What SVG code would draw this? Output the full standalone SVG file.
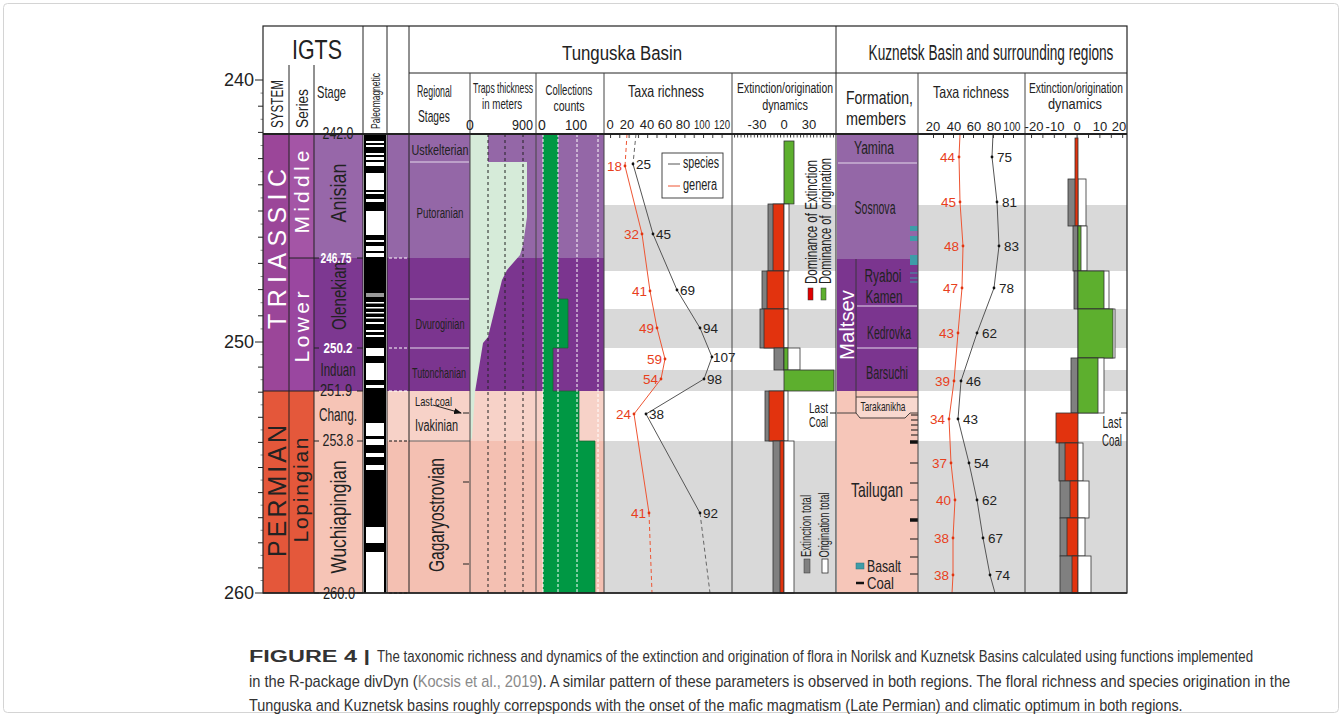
<svg xmlns="http://www.w3.org/2000/svg" width="1342" height="716" viewBox="0 0 1342 716">
<style>
text{font-family:"Liberation Sans Narrow","Liberation Sans",Arial,sans-serif;fill:#222}
.w{fill:#fff}
.cap{font-family:"Liberation Sans",Arial,sans-serif;font-size:16px;fill:#333}
.ln{stroke:#222;stroke-width:1;fill:none}
.bar{stroke:#333;stroke-width:0.8}
.red{fill:#E2330E}
.grn{fill:#5DAF2E}
.gry{fill:#808080}
.wht{fill:#fff}
.rn{fill:#E8401C}
.num{font-size:13.5px}
</style>
<defs>
<pattern id="tkT" patternUnits="userSpaceOnUse" x="610" y="0" width="9.3" height="716"><rect x="0" y="0" width="1" height="716" fill="#333"/></pattern>
<pattern id="tkTE" patternUnits="userSpaceOnUse" x="734" y="0" width="3.3" height="716"><rect x="0" y="0" width="0.9" height="716" fill="#333"/></pattern>
<pattern id="tkK" patternUnits="userSpaceOnUse" x="933" y="0" width="10" height="716"><rect x="0" y="0" width="1" height="716" fill="#333"/></pattern>
<pattern id="tkKE" patternUnits="userSpaceOnUse" x="1031" y="0" width="11.4" height="716"><rect x="0" y="0" width="1" height="716" fill="#333"/></pattern>
<marker id="arr" markerWidth="8" markerHeight="6" refX="7" refY="3" orient="auto" markerUnits="userSpaceOnUse"><path d="M0,0 L8,3 L0,6 z" fill="#111"/></marker>
</defs>
<rect width="1342" height="716" fill="#fff"/>
<rect x="3.5" y="3.5" width="1335" height="709" rx="4" fill="none" stroke="#d4d4d4"/>

<g id="time-axis">
<path class="ln" d="M255 80H263M255 342H263M255 593H263"/>
<path class="ln" d="M258 106.2H263M258 132.4H263M258 158.6H263M258 184.8H263M258 211H263M258 237.2H263M258 263.4H263M258 289.6H263M258 315.8H263M258 367.1H263M258 392.2H263M258 417.3H263M258 442.4H263M258 467.5H263M258 492.6H263M258 517.7H263M258 542.8H263M258 567.9H263"/>
<path stroke="#555" stroke-width="0.7" d="M260.5 93.1H263M260.5 119.3H263M260.5 145.5H263M260.5 171.7H263M260.5 197.9H263M260.5 224.1H263M260.5 250.3H263M260.5 276.5H263M260.5 302.7H263M260.5 328.9H263M260.5 354.6H263M260.5 379.7H263M260.5 404.8H263M260.5 429.9H263M260.5 455H263M260.5 480.1H263M260.5 505.2H263M260.5 530.3H263M260.5 555.4H263M260.5 580.5H263"/>
<text x="254" y="86" text-anchor="end" font-size="18" fill="#333">240</text>
<text x="254" y="348" text-anchor="end" font-size="18" fill="#333">250</text>
<text x="254" y="599" text-anchor="end" font-size="18" fill="#333">260</text>
</g>

<g id="igts">
<rect x="263" y="134" width="26" height="257" fill="#9B4699"/>
<rect x="263" y="391" width="26" height="202" fill="#E4573A"/>
<rect x="289" y="134" width="25" height="124" fill="#A455A6"/>
<rect x="289" y="258" width="25" height="133" fill="#9A47A0"/>
<rect x="289" y="391" width="25" height="202" fill="#E4583B"/>
<rect x="314" y="134" width="49" height="124" fill="#9767A9"/>
<rect x="314" y="258" width="49" height="133" fill="#7D3891"/>
<rect x="314" y="391" width="49" height="202" fill="#F6C4B6"/>
<path class="ln" d="M289 258H314M263 391H314M289 65V593M314 65V593"/>
<text x="317" y="59" text-anchor="middle" font-size="27" textLength="50" lengthAdjust="spacingAndGlyphs">IGTS</text>
<text transform="translate(277,104) rotate(-90)" text-anchor="middle" dy="0.36em" font-size="16" textLength="48" lengthAdjust="spacingAndGlyphs">SYSTEM</text>
<text transform="translate(302,108.5) rotate(-90)" text-anchor="middle" dy="0.36em" font-size="17" textLength="39" lengthAdjust="spacingAndGlyphs">Series</text>
<text x="331.5" y="98" text-anchor="middle" font-size="17" textLength="29" lengthAdjust="spacingAndGlyphs">Stage</text>
<text transform="translate(277,249) rotate(-90)" text-anchor="middle" dy="0.36em" font-size="25" class="w" textLength="160" lengthAdjust="spacing" style="font-family:'Liberation Sans',Arial,sans-serif">TRIASSIC</text>
<text transform="translate(277,491) rotate(-90)" text-anchor="middle" dy="0.36em" font-size="25" textLength="132" lengthAdjust="spacing" style="font-family:'Liberation Sans',Arial,sans-serif">PERMIAN</text>
<text transform="translate(301,192) rotate(-90)" text-anchor="middle" dy="0.36em" font-size="21" class="w" textLength="83" lengthAdjust="spacing" style="font-family:'Liberation Sans',Arial,sans-serif">Middle</text>
<text transform="translate(301,327) rotate(-90)" text-anchor="middle" dy="0.36em" font-size="21" class="w" textLength="71" lengthAdjust="spacing" style="font-family:'Liberation Sans',Arial,sans-serif">Lower</text>
<text transform="translate(300,490) rotate(-90)" text-anchor="middle" dy="0.36em" font-size="21" textLength="105" lengthAdjust="spacing" style="font-family:'Liberation Sans',Arial,sans-serif">Lopingian</text>
<text transform="translate(338,193) rotate(-90)" text-anchor="middle" dy="0.36em" font-size="22" fill="#EBDFF2" textLength="59" lengthAdjust="spacingAndGlyphs">Anisian</text>
<text transform="translate(338,296) rotate(-90)" text-anchor="middle" dy="0.36em" font-size="21" fill="#E6D6EE" textLength="68" lengthAdjust="spacingAndGlyphs">Olenekian</text>
<text x="338" y="376" text-anchor="middle" font-size="18" fill="#F0E8F4" textLength="35" lengthAdjust="spacingAndGlyphs">Induan</text>
<text x="338" y="421" text-anchor="middle" font-size="19" textLength="38" lengthAdjust="spacingAndGlyphs">Chang.</text>
<text transform="translate(338,517) rotate(-90)" text-anchor="middle" dy="0.36em" font-size="22" textLength="113" lengthAdjust="spacingAndGlyphs">Wuchiapingian</text>
<path class="ln" d="M314 134H319M357 134H363M314 258H319M357 258H363M314 348H319M357 348H363M314 391H319M357 391H363M314 441H319M357 441H363M314 593H319M357 593H363"/>
<text x="338" y="139" text-anchor="middle" font-size="16" fill="#555" textLength="31" lengthAdjust="spacingAndGlyphs">242.0</text>
<text x="336" y="263" text-anchor="middle" font-size="15" class="w" font-weight="bold" textLength="31" lengthAdjust="spacingAndGlyphs">246.75</text>
<text x="338" y="353" text-anchor="middle" font-size="15" class="w" font-weight="bold" textLength="29" lengthAdjust="spacingAndGlyphs">250.2</text>
<text x="336" y="396" text-anchor="middle" font-size="16" fill="#E4DCE8" textLength="32" lengthAdjust="spacingAndGlyphs">251.9</text>
<text x="338" y="446" text-anchor="middle" font-size="16" textLength="31" lengthAdjust="spacingAndGlyphs">253.8</text>
<text x="339" y="599" text-anchor="middle" font-size="16" fill="#333" textLength="32" lengthAdjust="spacingAndGlyphs">260.0</text>
</g>

<g id="paleomagnetic">
<rect x="364" y="134" width="22" height="459" fill="#000"/>
<g fill="#fff">
<rect x="366" y="141" width="18" height="2"/>
<rect x="366" y="145" width="18" height="2"/>
<rect x="366" y="153" width="18" height="2"/>
<rect x="366" y="157" width="18" height="3"/>
<rect x="366" y="162" width="18" height="4"/>
<rect x="366" y="173" width="18" height="17"/>
<rect x="366" y="192" width="18" height="2"/>
<rect x="366" y="199" width="18" height="3"/>
<rect x="366" y="211" width="18" height="24"/>
<rect x="366" y="240" width="18" height="2"/>
<rect x="366" y="246" width="18" height="5"/>
<rect x="366" y="253" width="18" height="4"/>
<rect x="366" y="302" width="18" height="1.5"/>
<rect x="366" y="307" width="18" height="1.5"/>
<rect x="366" y="312" width="18" height="1.5"/>
<rect x="366" y="317" width="18" height="1.5"/>
<rect x="366" y="322" width="18" height="2"/>
<rect x="366" y="330" width="18" height="2"/>
<rect x="366" y="335" width="18" height="2"/>
<rect x="366" y="348" width="18" height="8"/>
<rect x="366" y="363" width="18" height="17"/>
<rect x="366" y="385" width="18" height="3"/>
<rect x="366" y="423" width="18" height="13"/>
<rect x="366" y="439" width="18" height="6"/>
<rect x="366" y="453" width="18" height="4"/>
<rect x="366" y="465" width="18" height="5"/>
<rect x="366" y="527" width="18" height="16"/>
<rect x="366" y="552" width="18" height="41"/>
</g>
<rect x="366" y="293" width="18" height="4" fill="#999"/>
<text transform="translate(375,101) rotate(-90)" text-anchor="middle" dy="0.36em" font-size="13.5" textLength="56" lengthAdjust="spacingAndGlyphs">Paleomagnetic</text>
</g>

<g id="tunguska-background">
<rect x="387" y="134" width="217" height="124" fill="#9467A7"/>
<rect x="387" y="258" width="217" height="133" fill="#7B358F"/>
<rect x="387" y="391" width="217" height="50" fill="#F7D2C8"/>
<rect x="387" y="441" width="217" height="152" fill="#F4C0B2"/>
<path stroke="#fff" stroke-width="1.2" stroke-dasharray="3,2" d="M389 258H408M389 348H408M389 391H408"/>
<path stroke="#111" stroke-width="1.2" stroke-dasharray="3,2" d="M389 441H408M389 593H408"/>
</g>

<g id="regional-stages">
<path stroke="#E4DAEC" stroke-width="1.2" d="M410 162H469M410 299H469M410 348H469"/>
<path stroke="#666" stroke-width="1" d="M409 441H470"/>
<text x="440" y="155" text-anchor="middle" font-size="14" fill="#EEE6F3" textLength="57" lengthAdjust="spacingAndGlyphs">Ustkelterian</text>
<text x="440" y="218" text-anchor="middle" font-size="15.5" fill="#F2ECF6" textLength="47" lengthAdjust="spacingAndGlyphs">Putoranian</text>
<text x="440" y="329" text-anchor="middle" font-size="15.5" fill="#F2ECF6" textLength="49" lengthAdjust="spacingAndGlyphs">Dvuroginian</text>
<text x="439" y="378" text-anchor="middle" font-size="14.5" fill="#F2ECF6" textLength="54" lengthAdjust="spacingAndGlyphs">Tutonchanian</text>
<text x="415" y="406" font-size="13" textLength="37" lengthAdjust="spacingAndGlyphs">Last coal</text>
<path d="M433 405L461 413" stroke="#111" stroke-width="0.9" marker-end="url(#arr)"/>
<path class="ln" d="M463 413H469M463 482H469M463 564H469"/>
<text x="415" y="431" font-size="16" textLength="43" lengthAdjust="spacingAndGlyphs">Ivakinian</text>
<text transform="translate(436,515) rotate(-90)" text-anchor="middle" dy="0.36em" font-size="22" textLength="114" lengthAdjust="spacingAndGlyphs">Gagaryostrovian</text>
</g>

<g id="traps-thickness">
<polygon points="470,134 488,134 488,162 527,162 527,217 523,245 520,255 507,270 502,280 488,337 483,343 475,392 472,438 470,441" fill="#D6EBD9"/>
<path stroke="#222" stroke-width="1" stroke-dasharray="3,3" d="M488 134V593M505 134V593M523 134V593"/>
</g>

<g id="collections-counts">
<g fill="#009844">
<rect x="543" y="134" width="15" height="165"/>
<rect x="543" y="299" width="25" height="49"/>
<rect x="543" y="348" width="10" height="43"/>
<rect x="543" y="391" width="36" height="50"/>
<rect x="543" y="441" width="52" height="152"/>
</g>
<path stroke="#1b5e2b" stroke-width="0.7" fill="none" d="M558 299H568V348H553V391H579V441H595V593"/>
<path stroke="#fff" stroke-width="1" stroke-dasharray="3,2" d="M543 134V593M558 134V593M577 134V593M598 134V593"/>
</g>

<g id="tunguska-taxa-richness">
<rect x="604" y="134" width="232" height="459" fill="#fff"/>
<g fill="#D9D9D9">
<rect x="604" y="205" width="232" height="66"/>
<rect x="604" y="309" width="232" height="39"/>
<rect x="604" y="370" width="232" height="21"/>
<rect x="604" y="441" width="232" height="152"/>
</g>
<rect x="609" y="134" width="115" height="4" fill="url(#tkT)"/>
<path fill="none" stroke="#EE5533" stroke-width="1" stroke-dasharray="4,3" d="M627 134L625 166M649 513L652 593"/>
<path fill="none" stroke="#EE5533" stroke-width="1" d="M625 166L642 234L650 291L657 328L665 359L661 379L634 414L649 513"/>
<path fill="none" stroke="#666" stroke-width="1" stroke-dasharray="4,3" d="M636 134L633 164M700 513L710 593"/>
<path fill="none" stroke="#555" stroke-width="1" d="M633 164L653 234L677 290L700 328L712 357L704 379L646 414L700 513"/>
<g fill="#111">
<circle cx="633" cy="164" r="1.4"/><circle cx="653" cy="234" r="1.4"/><circle cx="677" cy="290" r="1.4"/><circle cx="700" cy="328" r="1.4"/><circle cx="712" cy="357" r="1.4"/><circle cx="704" cy="379" r="1.4"/><circle cx="646" cy="414" r="1.4"/><circle cx="700" cy="513" r="1.4"/>
</g>
<g fill="#E2330E">
<circle cx="625" cy="166" r="1.4"/><circle cx="642" cy="234" r="1.4"/><circle cx="650" cy="291" r="1.4"/><circle cx="657" cy="328" r="1.4"/><circle cx="665" cy="359" r="1.4"/><circle cx="661" cy="379" r="1.4"/><circle cx="634" cy="414" r="1.4"/><circle cx="649" cy="513" r="1.4"/>
</g>
<g class="num">
<text x="636" y="169">25</text><text x="656" y="239">45</text><text x="680" y="295">69</text><text x="703" y="333">94</text><text x="713" y="362">107</text><text x="707" y="384">98</text><text x="649" y="419">38</text><text x="703" y="518">92</text>
</g>
<g class="num" text-anchor="end">
<text class="rn" x="622" y="171">18</text><text class="rn" x="639" y="239">32</text><text class="rn" x="647" y="296">41</text><text class="rn" x="654" y="333">49</text><text class="rn" x="662" y="364">59</text><text class="rn" x="658" y="384">54</text><text class="rn" x="631" y="419">24</text><text class="rn" x="646" y="518">41</text>
</g>
<rect x="662" y="153" width="61" height="45" fill="#fff" stroke="#333" stroke-width="0.9"/>
<path d="M668 164H680" stroke="#555" stroke-width="1"/>
<path d="M668 186H680" stroke="#EE5533" stroke-width="1"/>
<text x="683" y="168" font-size="16" textLength="36" lengthAdjust="spacingAndGlyphs">species</text>
<text x="683" y="190" font-size="16" textLength="34" lengthAdjust="spacingAndGlyphs">genera</text>
</g>

<g id="tunguska-extinction-origination">
<rect x="733" y="134" width="101" height="3.5" fill="url(#tkTE)"/>
<g class="bar">
<rect class="grn" x="784" y="141" width="10" height="63"/>
<rect class="gry" x="768" y="204" width="16" height="67"/>
<rect class="red" x="773" y="204" width="11" height="67"/>
<rect class="wht" x="784" y="204" width="5" height="67"/>
<rect class="gry" x="762" y="271" width="22" height="38"/>
<rect class="red" x="767" y="271" width="17" height="38"/>
<rect class="wht" x="784" y="271" width="4" height="38"/>
<rect class="gry" x="760" y="309" width="24" height="39"/>
<rect class="red" x="764" y="309" width="20" height="39"/>
<rect class="wht" x="784" y="309" width="4" height="39"/>
<rect class="gry" x="774" y="348" width="10" height="22"/>
<rect class="wht" x="784" y="348" width="16" height="22"/>
<rect class="grn" x="784" y="348" width="4" height="22"/>
<rect class="grn" x="784" y="370" width="50" height="21"/>
<rect class="gry" x="765" y="391" width="19" height="50"/>
<rect class="red" x="769" y="391" width="15" height="50"/>
<rect class="wht" x="784" y="391" width="4" height="50"/>
<rect class="gry" x="773" y="441" width="11" height="152"/>
<rect class="red" x="780" y="441" width="4" height="152"/>
<rect class="wht" x="784" y="441" width="10" height="152"/>
</g>
<text transform="translate(811,222) rotate(-90)" text-anchor="middle" dy="0.36em" font-size="16" textLength="124" lengthAdjust="spacingAndGlyphs">Dominance of Extinction</text>
<text transform="translate(825,221) rotate(-90)" text-anchor="middle" dy="0.36em" font-size="16" textLength="126" lengthAdjust="spacingAndGlyphs">Dominance of &#160;origination</text>
<rect x="808" y="288" width="5" height="12" fill="#E00000" stroke="#333" stroke-width="0.5"/>
<rect x="821" y="288" width="5" height="12" fill="#5DAF2E" stroke="#333" stroke-width="0.5"/>
<text transform="translate(806,526) rotate(-90)" text-anchor="middle" dy="0.36em" font-size="15" textLength="62" lengthAdjust="spacingAndGlyphs">Extinction total</text>
<text transform="translate(824,525) rotate(-90)" text-anchor="middle" dy="0.36em" font-size="15" textLength="65" lengthAdjust="spacingAndGlyphs">Origination total</text>
<rect x="804" y="559" width="6" height="14" fill="#808080" stroke="#333" stroke-width="0.5"/>
<rect x="822" y="559" width="6" height="14" fill="#fff" stroke="#333" stroke-width="0.8"/>
<text x="828" y="413" text-anchor="end" font-size="14" textLength="19" lengthAdjust="spacingAndGlyphs">Last</text>
<text x="828" y="427" text-anchor="end" font-size="14" textLength="19" lengthAdjust="spacingAndGlyphs">Coal</text>
<path class="ln" d="M830 413H836"/>
</g>

<g id="kuznetsk-formations">
<rect x="837" y="134" width="81" height="125" fill="#9467A7"/>
<rect x="837" y="259" width="81" height="132" fill="#7B358F"/>
<rect x="837" y="391" width="81" height="202" fill="#F6C6B9"/>
<path stroke="#E4DAEC" stroke-width="1.2" d="M838 163H917M857 306H917M857 348H917"/>
<path fill="#F8D8CF" stroke="none" d="M857 397.5H917.5V412.5H910L905 417.5H860L856.5 413Z"/>
<path fill="none" stroke="#333" stroke-width="0.9" d="M856 397H918M837 413H856L860 418H905L910 413H918M856 259V413"/>
<text x="874" y="154" text-anchor="middle" font-size="17.5" fill="#F2ECF6" textLength="40" lengthAdjust="spacingAndGlyphs">Yamina</text>
<text x="875" y="214" text-anchor="middle" font-size="17.5" fill="#F2ECF6" textLength="41" lengthAdjust="spacingAndGlyphs">Sosnova</text>
<text x="883" y="282" text-anchor="middle" font-size="17.5" fill="#F2ECF6" textLength="37" lengthAdjust="spacingAndGlyphs">Ryaboi</text>
<text x="884" y="303" text-anchor="middle" font-size="17.5" fill="#F2ECF6" textLength="37" lengthAdjust="spacingAndGlyphs">Kamen</text>
<text x="889" y="339" text-anchor="middle" font-size="17.5" fill="#F2ECF6" textLength="44" lengthAdjust="spacingAndGlyphs">Kedrovka</text>
<text x="887" y="379" text-anchor="middle" font-size="17.5" fill="#F2ECF6" textLength="42" lengthAdjust="spacingAndGlyphs">Barsuchi</text>
<text transform="translate(846,325) rotate(-90)" text-anchor="middle" dy="0.36em" font-size="21" class="w" textLength="70" lengthAdjust="spacingAndGlyphs">Maltsev</text>
<text x="883" y="411" text-anchor="middle" font-size="13" textLength="45" lengthAdjust="spacingAndGlyphs">Tarakanikha</text>
<text x="877" y="497" text-anchor="middle" font-size="21" textLength="52" lengthAdjust="spacingAndGlyphs">Tailugan</text>
<g fill="#3E9CA8">
<rect x="910" y="226" width="8" height="5"/>
<rect x="910" y="236" width="8" height="5"/>
<rect x="910" y="255" width="8" height="10"/>
</g>
<path stroke="#3E9CA8" stroke-width="1" d="M910 273H918M910 278H918M910 282H918"/>
<path stroke="#111" stroke-width="1" d="M911 415H918M911 420H918M911 425H918M911 430H918M911 435H918M910 463H918M910 483H918M910 500H918M910 539H918M910 557H918M910 574H918"/>
<path stroke="#111" stroke-width="3.5" d="M910 442H918M910 520H918"/>
<rect x="856" y="563" width="8" height="6" fill="#3E9CA8" stroke="#2a6f78" stroke-width="0.5"/>
<text x="867" y="572" font-size="17" textLength="34" lengthAdjust="spacingAndGlyphs">Basalt</text>
<path stroke="#111" stroke-width="2.5" d="M856 583H864"/>
<text x="867" y="589" font-size="17" textLength="27" lengthAdjust="spacingAndGlyphs">Coal</text>
</g>

<g id="kuznetsk-taxa-richness">
<rect x="918" y="134" width="209" height="459" fill="#fff"/>
<g fill="#D9D9D9">
<rect x="918" y="205" width="209" height="66"/>
<rect x="918" y="309" width="209" height="39"/>
<rect x="918" y="370" width="209" height="21"/>
<rect x="918" y="441" width="209" height="152"/>
</g>
<rect x="933" y="134" width="82" height="4" fill="url(#tkK)"/>
<path fill="none" stroke="#EE5533" stroke-width="1" d="M960 134L959 157L960 202L963 246L962 288L958 333L954 381L949 419L951 463L955 500L953 538L953 575L952 593"/>
<path fill="none" stroke="#555" stroke-width="1" d="M993 134L992 157L997 202L999 246L994 288L977 333L961 381L958 419L969 463L977 500L983 538L990 575L995 593"/>
<g fill="#111">
<circle cx="992" cy="157" r="1.4"/><circle cx="997" cy="202" r="1.4"/><circle cx="999" cy="246" r="1.4"/><circle cx="994" cy="288" r="1.4"/><circle cx="977" cy="333" r="1.4"/><circle cx="961" cy="381" r="1.4"/><circle cx="958" cy="419" r="1.4"/><circle cx="969" cy="463" r="1.4"/><circle cx="977" cy="500" r="1.4"/><circle cx="983" cy="538" r="1.4"/><circle cx="990" cy="575" r="1.4"/>
</g>
<g fill="#E2330E">
<circle cx="959" cy="157" r="1.4"/><circle cx="960" cy="202" r="1.4"/><circle cx="963" cy="246" r="1.4"/><circle cx="962" cy="288" r="1.4"/><circle cx="958" cy="333" r="1.4"/><circle cx="954" cy="381" r="1.4"/><circle cx="949" cy="419" r="1.4"/><circle cx="951" cy="463" r="1.4"/><circle cx="955" cy="500" r="1.4"/><circle cx="953" cy="538" r="1.4"/><circle cx="953" cy="575" r="1.4"/>
</g>
<g class="num">
<text x="997" y="162">75</text><text x="1002" y="207">81</text><text x="1004" y="251">83</text><text x="999" y="293">78</text><text x="982" y="338">62</text><text x="966" y="386">46</text><text x="963" y="424">43</text><text x="974" y="468">54</text><text x="982" y="505">62</text><text x="988" y="543">67</text><text x="995" y="580">74</text>
</g>
<g class="num" text-anchor="end">
<text class="rn" x="955" y="162">44</text><text class="rn" x="956" y="207">45</text><text class="rn" x="959" y="251">48</text><text class="rn" x="958" y="293">47</text><text class="rn" x="954" y="338">43</text><text class="rn" x="950" y="386">39</text><text class="rn" x="945" y="424">34</text><text class="rn" x="947" y="468">37</text><text class="rn" x="951" y="505">40</text><text class="rn" x="949" y="543">38</text><text class="rn" x="949" y="580">38</text>
</g>
</g>

<g id="kuznetsk-extinction-origination">
<rect x="1030" y="134" width="95" height="4" fill="url(#tkKE)"/>
<g class="bar">
<rect class="gry" x="1068" y="179" width="10" height="47"/>
<rect class="wht" x="1078" y="179" width="8" height="47"/>
<rect class="red" x="1075" y="138" width="3" height="88"/>
<rect class="gry" x="1073" y="226" width="5" height="45"/>
<rect class="wht" x="1078" y="226" width="9" height="45"/>
<rect class="grn" x="1078" y="226" width="3" height="45"/>
<rect class="gry" x="1074" y="271" width="4" height="38"/>
<rect class="wht" x="1078" y="271" width="31" height="38"/>
<rect class="grn" x="1078" y="271" width="26" height="38"/>
<rect class="wht" x="1078" y="309" width="37" height="49"/>
<rect class="grn" x="1078" y="309" width="35" height="49"/>
<rect class="gry" x="1071" y="358" width="7" height="55"/>
<rect class="wht" x="1078" y="358" width="26" height="55"/>
<rect class="grn" x="1078" y="358" width="20" height="55"/>
<rect class="red" x="1056" y="413" width="22" height="30"/>
<rect class="gry" x="1059" y="443" width="19" height="38"/>
<rect class="red" x="1065" y="443" width="13" height="38"/>
<rect class="wht" x="1078" y="443" width="5" height="38"/>
<rect class="gry" x="1060" y="481" width="18" height="37"/>
<rect class="red" x="1070" y="481" width="8" height="37"/>
<rect class="wht" x="1078" y="481" width="11" height="37"/>
<rect class="gry" x="1060" y="518" width="18" height="38"/>
<rect class="red" x="1067" y="518" width="11" height="38"/>
<rect class="wht" x="1078" y="518" width="7" height="38"/>
<rect class="gry" x="1060" y="556" width="18" height="37"/>
<rect class="red" x="1072" y="556" width="6" height="37"/>
<rect class="wht" x="1078" y="556" width="13" height="37"/>
</g>
<text x="1112" y="428" text-anchor="middle" font-size="16" textLength="19" lengthAdjust="spacingAndGlyphs">Last</text>
<text x="1112" y="446" text-anchor="middle" font-size="16" textLength="20" lengthAdjust="spacingAndGlyphs">Coal</text>
<path class="ln" d="M1121 413H1127"/>
</g>

<g id="frame">
<rect x="263" y="26" width="864" height="567" fill="none" stroke="#222" stroke-width="1.2"/>
<path class="ln" d="M363 26V593M387 26V593M409 26V593M836 26V593M409 73H1127"/>
<path stroke="#444" stroke-width="1" d="M470 73V593M536 73V593M604 73V593M732 73V593M918 73V593M1025 73V593"/>
<path stroke="#222" stroke-width="2" d="M263 134H1127"/>
<path stroke="#222" stroke-width="1.4" d="M263 593H1127"/>
</g>

<g id="headers" text-anchor="middle">
<text transform="translate(622,60) scale(0.8,1)" font-size="21" textLength="150" lengthAdjust="spacingAndGlyphs">Tunguska Basin</text>
<text transform="translate(991,60) scale(0.68,1)" font-size="21.5" textLength="360" lengthAdjust="spacingAndGlyphs">Kuznetsk Basin and surrounding regions</text>
<text transform="translate(417,97) scale(0.6,1)" font-size="16" text-anchor="start" textLength="58" lengthAdjust="spacingAndGlyphs">Regional</text>
<text transform="translate(418,122) scale(0.65,1)" font-size="16" text-anchor="start" textLength="49" lengthAdjust="spacingAndGlyphs">Stages</text>
<text transform="translate(503,93) scale(0.6,1)" font-size="14" textLength="100" lengthAdjust="spacingAndGlyphs">Traps thickness</text>
<text transform="translate(502,109) scale(0.65,1)" font-size="14" textLength="61.5" lengthAdjust="spacingAndGlyphs">in meters</text>
<text x="470" y="130" font-size="14">0</text>
<text x="533" y="130" text-anchor="end" font-size="14" textLength="21" lengthAdjust="spacingAndGlyphs">900</text>
<text transform="translate(569,95) scale(0.65,1)" font-size="15.5" textLength="72" lengthAdjust="spacingAndGlyphs">Collections</text>
<text transform="translate(569,111) scale(0.65,1)" font-size="15.5" textLength="48" lengthAdjust="spacingAndGlyphs">counts</text>
<text x="542" y="130" font-size="14">0</text>
<text x="576" y="130" font-size="14" textLength="22" lengthAdjust="spacingAndGlyphs">100</text>
<text transform="translate(666,97) scale(0.8,1)" font-size="16.5" textLength="95" lengthAdjust="spacingAndGlyphs">Taxa richness</text>
<g font-size="13">
<text x="610" y="129">0</text><text x="627" y="129">20</text><text x="647" y="129">40</text><text x="665" y="129">60</text><text x="683" y="129">80</text><text x="702" y="129" textLength="16" lengthAdjust="spacingAndGlyphs">100</text><text x="722" y="129" textLength="16" lengthAdjust="spacingAndGlyphs">120</text>
<text x="757" y="129">-30</text><text x="784" y="129">0</text><text x="809" y="129">30</text>
</g>
<text transform="translate(785,93) scale(0.68,1)" font-size="14.5" textLength="141" lengthAdjust="spacingAndGlyphs">Extinction/origination</text>
<text transform="translate(785,110) scale(0.75,1)" font-size="14.5" textLength="61" lengthAdjust="spacingAndGlyphs">dynamics</text>
<text x="846" y="104" font-size="18.5" text-anchor="start" textLength="67" lengthAdjust="spacingAndGlyphs">Formation,</text>
<text x="846" y="125" font-size="18.5" text-anchor="start" textLength="60" lengthAdjust="spacingAndGlyphs">members</text>
<text transform="translate(971,98) scale(0.8,1)" font-size="16.5" textLength="95" lengthAdjust="spacingAndGlyphs">Taxa richness</text>
<g font-size="13">
<text x="933" y="131">20</text><text x="954" y="131">40</text><text x="974" y="131">60</text><text x="994" y="131">80</text><text x="1012" y="131" textLength="17" lengthAdjust="spacingAndGlyphs">100</text>
<text x="1034" y="131">-20</text><text x="1055" y="131">-10</text><text x="1077" y="131">0</text><text x="1100" y="131">10</text><text x="1119" y="131">20</text>
</g>
<text transform="translate(1076,93) scale(0.68,1)" font-size="14.5" textLength="138" lengthAdjust="spacingAndGlyphs">Extinction/origination</text>
<text transform="translate(1075,109) scale(0.75,1)" font-size="15.5" textLength="72" lengthAdjust="spacingAndGlyphs">dynamics</text>
</g>

<g id="caption">
<text class="cap" x="249" y="662" font-weight="bold" textLength="121" lengthAdjust="spacingAndGlyphs">FIGURE 4 |</text>
<text class="cap" transform="translate(377,662) scale(0.8,1)" textLength="1095" lengthAdjust="spacingAndGlyphs">The taxonomic richness and dynamics of the extinction and origination of flora in Norilsk and Kuznetsk Basins calculated using functions implemented</text>
<text class="cap" transform="translate(249,687) scale(0.85,1)" textLength="1225" lengthAdjust="spacingAndGlyphs">in the R-package divDyn (<tspan fill="#8a8a8a">Kocsis et al., 2019</tspan>). A similar pattern of these parameters is observed in both regions. The floral richness and species origination in the</text>
<text class="cap" transform="translate(249,711) scale(0.89,1)" textLength="1049" lengthAdjust="spacingAndGlyphs">Tunguska and Kuznetsk basins roughly correpsponds with the onset of the mafic magmatism (Late Permian) and climatic optimum in both regions.</text>
</g>
</svg>
